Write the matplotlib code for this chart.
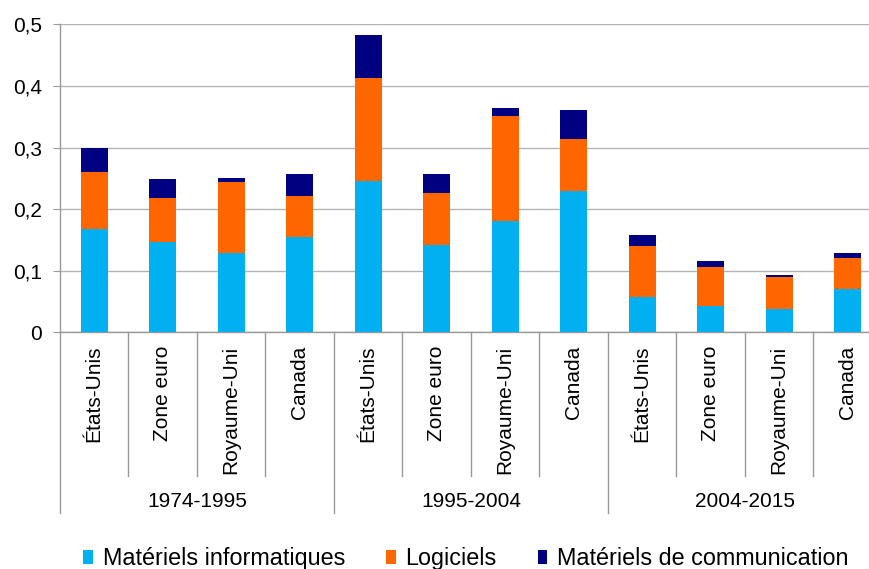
import matplotlib
matplotlib.use("Agg")
import matplotlib.pyplot as plt
from matplotlib.patches import Patch
from matplotlib.transforms import blended_transform_factory
from matplotlib.lines import Line2D

plt.rcParams['font.family'] = ['Liberation Sans', 'DejaVu Sans']

periods = ["1974-1995", "1995-2004", "2004-2015"]
countries = ["États-Unis", "Zone euro", "Royaume-Uni", "Canada"]
series_names = ["Matériels informatiques", "Logiciels", "Matériels de communication"]

# values per bar (periods x countries, flattened)
informatique = [0.168, 0.146, 0.128, 0.154,
                0.245, 0.141, 0.180, 0.229,
                0.057, 0.043, 0.038, 0.070]
logiciels = [0.093, 0.072, 0.116, 0.068,
             0.168, 0.085, 0.171, 0.085,
             0.083, 0.063, 0.052, 0.051]
communication = [0.038, 0.031, 0.006, 0.035,
                 0.069, 0.031, 0.013, 0.047,
                 0.018, 0.010, 0.003, 0.007]

colors = ["#00B0F0", "#FF6600", "#000080"]

W, H = 870, 569
fig = plt.figure(figsize=(W / 100, H / 100), dpi=100)
ax_left, ax_right, ax_top, ax_bottom = 60, 882, 24.3, 332.3
ax = fig.add_axes([ax_left / W, 1 - ax_bottom / H, (ax_right - ax_left) / W, (ax_bottom - ax_top) / H])

n = len(informatique)
x = [i + 0.5 for i in range(n)]
bottom = [0.0] * n
for vals, col in zip([informatique, logiciels, communication], colors):
    ax.bar(x, vals, width=0.4, bottom=bottom, color=col, zorder=3)
    bottom = [b + v for b, v in zip(bottom, vals)]

ax.set_xlim(0, n)
ax.set_ylim(0, 0.5)
ax.set_yticks([0, 0.1, 0.2, 0.3, 0.4, 0.5])
ax.set_yticklabels(["0", "0,1", "0,2", "0,3", "0,4", "0,5"], fontsize=15)
ax.tick_params(axis='y', length=5, width=0.8, color='#999999', pad=8)
ax.set_xticks([])
ax.yaxis.grid(True, color='#B3B3B3', linewidth=1.0, zorder=0)
ax.set_axisbelow(True)
for s in ['top', 'right']:
    ax.spines[s].set_visible(False)
ax.spines['left'].set_color('#999999')
ax.spines['bottom'].set_color('#999999')
ax.spines['left'].set_linewidth(1.0)
ax.spines['bottom'].set_linewidth(1.0)

trans = blended_transform_factory(ax.transData, fig.transFigure)
def fy(px):
    return 1 - px / H

# separators
for i in range(n + 1):
    yend = 513 if i % 4 == 0 else 475.7
    fig.add_artist(Line2D([i, i], [fy(ax_bottom), fy(yend)], transform=trans,
                          color='#999999', linewidth=1.0, clip_on=False))

# category labels
for i in range(n):
    ax.text(i + 0.5, fy(345.5), countries[i % 4], transform=trans, rotation=90,
            ha='center', va='top', fontsize=15, color='black')

# group labels
for g, p in enumerate(periods):
    ax.text(g * 4 + 2, fy(501.5), p, transform=trans, ha='center', va='center',
            fontsize=15, color='black')

handles = [Patch(facecolor=c, edgecolor='none') for c in colors]
fig.legend(handles, series_names, loc='center', bbox_to_anchor=(466 / W, fy(558.5)),
           ncol=3, frameon=False, fontsize=16.8, handlelength=0.42, handleheight=0.52,
           handletextpad=0.42, columnspacing=1.75, borderpad=0.1)

fig.savefig("out.png", dpi=100)
